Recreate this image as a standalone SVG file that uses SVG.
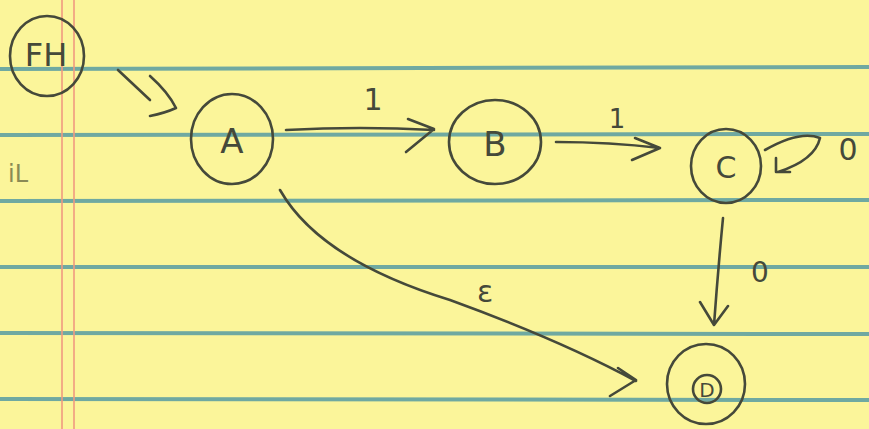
<svg xmlns="http://www.w3.org/2000/svg" width="869" height="429" viewBox="0 0 869 429">
<style>
.ink{fill:none;stroke:#45493a;stroke-width:2.6;stroke-linecap:round;stroke-linejoin:round}
.rule{stroke:#6fa9a1;stroke-width:4}
.margin{stroke:#f09a80;stroke-width:1.6}
.lbl{font-family:"DejaVu Sans",sans-serif;fill:#45493a;text-anchor:middle}
</style>
<rect width="869" height="429" fill="#fbf59a"/>
<g id="paper">
<line class="rule" x1="0" y1="69" x2="869" y2="67"/>
<line class="rule" x1="0" y1="135" x2="869" y2="134"/>
<line class="rule" x1="0" y1="201" x2="869" y2="200"/>
<line class="rule" x1="0" y1="267" x2="869" y2="267"/>
<line class="rule" x1="0" y1="333" x2="869" y2="334"/>
<line class="rule" x1="0" y1="399" x2="869" y2="400"/>
<line class="margin" x1="62" y1="0" x2="62" y2="429"/>
<line class="margin" x1="74" y1="0" x2="74" y2="429"/>
<text x="18" y="182" class="lbl" style="font-size:24px;fill:#8a8a55">iL</text>
</g>
<g id="connectors">
<path class="ink" d="M118 70 L150 100 M150 76 Q168 92 176 108 Q165 113 150 116"/>
<path class="ink" d="M286 130 Q360 126 434 130 M408 119 L434 129 L406 152"/>
<text x="373" y="110" class="lbl" style="font-size:30px">1</text>
<path class="ink" d="M556 142 Q610 142 660 148 M635 138 L660 148 L632 160"/>
<text x="617" y="128" class="lbl" style="font-size:26px">1</text>
<path class="ink" d="M765 150 Q800 130 820 138 Q815 160 778 172 M776 158 L776 172 L790 172"/>
<text x="848" y="160" class="lbl" style="font-size:30px">0</text>
<path class="ink" d="M723 218 Q718 270 714 325 M700 302 L714 325 L728 306"/>
<text x="760" y="282" class="lbl" style="font-size:28px">0</text>
<path class="ink" d="M280 190 Q320 260 450 300 Q560 340 636 381 M618 368 L636 380 L610 396"/>
<text x="485" y="302" class="lbl" style="font-size:30px">ε</text>
</g>
<g id="node-FH">
<ellipse class="ink" cx="47" cy="56" rx="37" ry="40"/>
<text x="46" y="66" class="lbl" style="font-size:32px">FH</text>
</g>
<g id="node-A">
<ellipse class="ink" cx="232" cy="139" rx="41" ry="45"/>
<text x="232" y="153" class="lbl" style="font-size:34px">A</text>
</g>
<g id="node-B">
<ellipse class="ink" cx="495" cy="142" rx="46" ry="42"/>
<text x="495" y="156" class="lbl" style="font-size:34px">B</text>
</g>
<g id="node-C">
<ellipse class="ink" cx="726" cy="166" rx="35" ry="37"/>
<text x="726" y="178" class="lbl" style="font-size:30px">C</text>
</g>
<g id="node-D">
<ellipse class="ink" cx="706" cy="384" rx="39" ry="40"/>
<circle class="ink" cx="707" cy="389" r="14"/>
<text x="707" y="397" class="lbl" style="font-size:20px">D</text>
</g>
</svg>
